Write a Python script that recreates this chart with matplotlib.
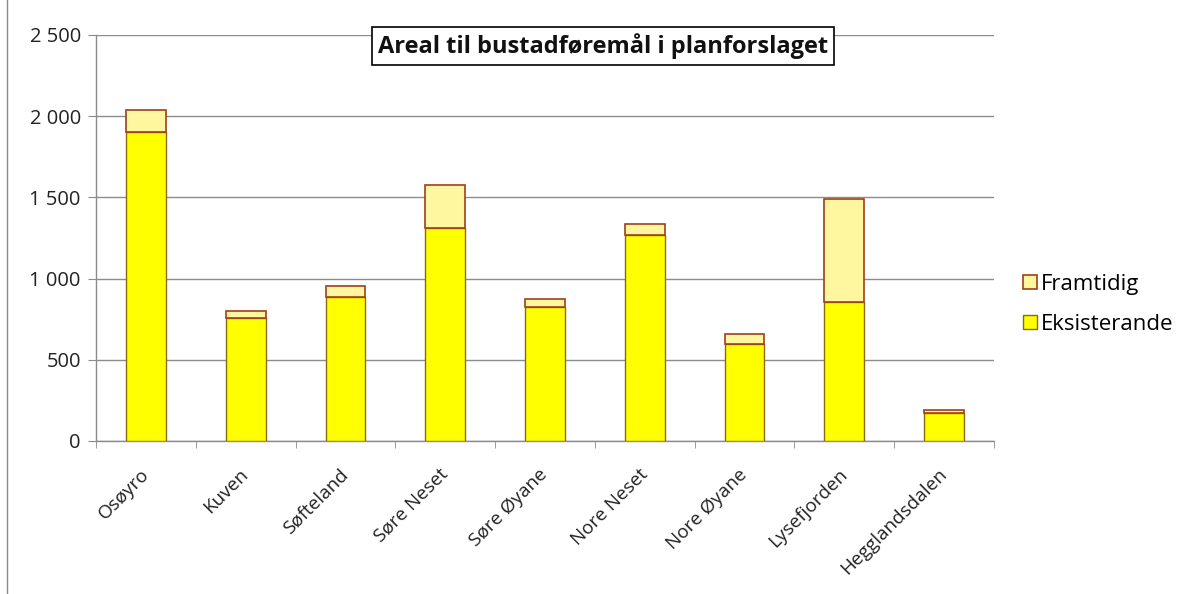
import matplotlib
matplotlib.use("Agg")
import matplotlib.pyplot as plt
from matplotlib.patches import Rectangle
from matplotlib.ticker import FuncFormatter, FixedLocator

categories = ["Osøyro", "Kuven", "Søfteland", "Søre Neset", "Søre Øyane",
              "Nore Neset", "Nore Øyane", "Lysefjorden", "Hegglandsdalen"]
eksisterande = [1900, 755, 885, 1310, 825, 1268, 598, 858, 170]
framtidig = [140, 45, 70, 265, 50, 70, 60, 632, 18]
series_names = ["Eksisterande", "Framtidig"]
title = "Areal til bustadføremål i planforslaget"

plt.rcParams['font.family'] = ['Open Sans', 'DejaVu Sans']

fig = plt.figure(figsize=(11.86, 5.94), dpi=100)
ax = fig.add_axes([0.081, 0.2576, 0.757, 0.6835])

x = list(range(len(categories)))
c_e, ec_e = "#FFFF00", "#8B6A10"
c_f, ec_f = "#FFF6A0", "#A0401A"
b1 = ax.bar(x, eksisterande, width=0.4, color=c_e, edgecolor=ec_e, linewidth=1.0,
            label=series_names[0], zorder=3)
b2 = ax.bar(x, framtidig, bottom=eksisterande, width=0.4, color=c_f, edgecolor=ec_f,
            linewidth=1.2, label=series_names[1], zorder=3)

ax.set_xlim(-0.5, len(categories) - 0.5)
ax.set_ylim(0, 2500)
ax.yaxis.set_major_locator(FixedLocator([0, 500, 1000, 1500, 2000, 2500]))
ax.yaxis.set_major_formatter(FuncFormatter(lambda v, p: f"{int(v):,}".replace(",", " ")))
ax.grid(axis='y', color="#8C8C8C", linewidth=1.0, zorder=0)
ax.set_axisbelow(True)

for s in ["top", "right"]:
    ax.spines[s].set_visible(False)
for s in ["left", "bottom"]:
    ax.spines[s].set_color("#8C8C8C")
    ax.spines[s].set_linewidth(1.0)

ax.set_xticks(x)
ax.set_xticklabels(categories, rotation=45, ha='right', va='center', rotation_mode='anchor',
                   fontsize=13.6, color="#222222")
ax.tick_params(axis='x', length=0, pad=22)
ax.set_xticks([i + 0.5 for i in range(-1, len(categories))], minor=True)
ax.tick_params(axis='x', which='minor', length=5, color="#8C8C8C", direction='out')
ax.tick_params(axis='y', length=6, color="#8C8C8C", labelsize=14.5, labelcolor="#222222", pad=5)

ax.text(0.565, 0.973, title, transform=ax.transAxes,
        ha='center', va='center', fontsize=17, fontweight='bold', zorder=5, color="#111111",
        bbox=dict(boxstyle='square,pad=0.25', facecolor='white', edgecolor='black', linewidth=1.2))

handles = [b2, b1]
leg = fig.legend(handles, [series_names[1], series_names[0]], loc='center left',
                 bbox_to_anchor=(0.846, 0.487), frameon=False, fontsize=16,
                 handlelength=0.6, handleheight=0.6, handletextpad=0.2, labelspacing=0.85)

fig.patches.append(Rectangle((0.006, -0.01), 1.2, 1.2, transform=fig.transFigure,
                             fill=False, edgecolor="#8C8C8C", linewidth=1.0))

fig.savefig("out.png", dpi=100)
